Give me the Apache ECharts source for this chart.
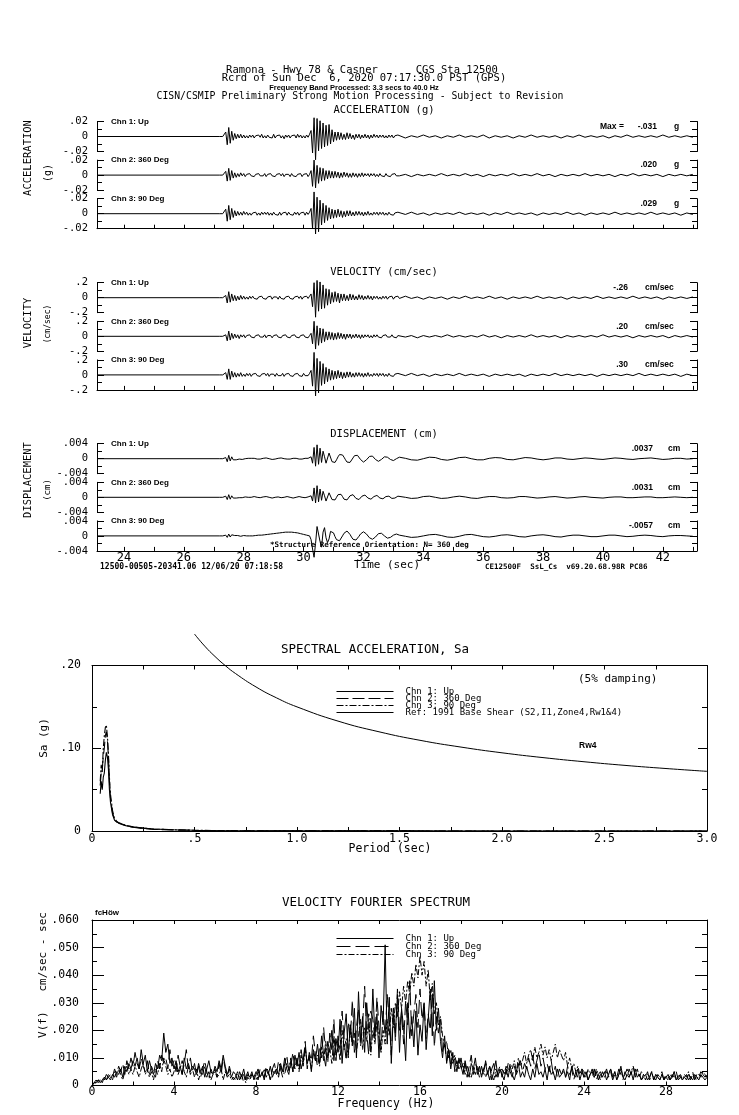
<!DOCTYPE html>
<html><head><meta charset="utf-8">
<script src="https://cdn.jsdelivr.net/npm/echarts@6/dist/echarts.min.js"></script>
<style>html,body{margin:0;padding:0;background:#fff}#c{width:739px;height:1115px}</style>
</head><body><div id="c"></div>
<script>
// ---------------- DATA ----------------
const channelNames = ['Chn 1: Up', 'Chn 2: 360 Deg', 'Chn 3: 90 Deg'];
const refName = 'Ref: 1991 Base Shear (S2,I1,Zone4,Rw1&4)';
const timeTickLabels = [24, 26, 28, 30, 32, 34, 36, 38, 40, 42];
const timeTicks = [24, 25, 26, 27, 28, 29, 30, 31, 32, 33, 34, 35, 36, 37, 38, 39, 40, 41, 42, 43];
const accMax = ['-.031', '.020', '.029'];
const velMax = ['-.26', '.20', '.30'];
const dispMax = ['.0037', '.0031', '-.0057'];

// time series: flat start at 23.1 s, then head samples every 0.05 s from 27.2 s, tail samples every 0.2 s from 33.2 s
const TRACE_START = 23.1, HEAD_T0 = 27.2, HEAD_DT = 0.05, TAIL_T0 = 33.2, TAIL_DT = 0.2;

const accHead1 = [0,0,0,0, .006,-.011,.012,-.009,.007,-.005, .004,-.003,.003,-.002,.003,-.002,.002,-.002,.001,-.002,.002,
 -.001,.002,-.002,.001,-.001,.002,-.001,.003,-.002,.001, -.002,.002,-.001,.001,-.002,.003,-.002,.001,-.001,.002,
 -.002,.001,-.003,.002,-.001,.002,-.002,.001,-.001,.002, -.002,.003,-.001,.002,-.002,.001,-.002,.002,-.001,.003,
 .008,-.022,.025,-.031,.024,-.019,.021,-.016,.018,-.014,.015,-.012,.016,-.010,.009,
 -.007,.006,-.005,.006,-.004,.005,-.004,.003,-.004,.005, -.003,.004,-.003,.002,-.004,.003,-.002,.003,-.003,.002,
 -.002,.003,-.002,.002,-.003,.002,-.002,.003,-.001,.002, -.002,.002,-.001,.002,-.002,.001,-.002,.002,-.001,.002, -.002,.001,-.001,.002];
const accTail1 = [.001,-.002,.001,-.001,.002,-.001,.001,-.002,.001,-.001, .002,-.001,.001,-.001,.002,-.002,.001,-.001,.001,-.002,
 .001,-.001,.002,-.001,.001,-.001,.001,-.002,.001,-.001, .002,-.001,.001,-.001,.001,-.002,.001,-.001,.002,-.001,
 .001,-.001,.001,-.001,.002,-.001,.001,-.001,.001,-.001];
const accHead2 = [0,0,0,0, .005,-.008,.009,-.007,.006,-.004, .003,-.003,.002,-.002,.003,-.001,.002,-.002,.001,-.001,.002,
 -.001,.001,-.002,.001,-.001,.002,-.001,.001,-.001,.002, -.002,.001,-.001,.002,-.001,.001,-.002,.001,-.001,.002,
 -.001,.002,-.002,.001,-.001,.001,-.002,.002,-.001,.001, -.002,.001,-.001,.002,-.002,.001,-.001,.002,-.002,.001,
 .006,-.015,.020,-.017,.013,-.011,.010,-.008,.009,-.007,.006,-.005,.006,-.004,.005,
 -.004,.005,-.003,.004,-.004,.003,-.003,.004,-.002,.003, -.003,.002,-.003,.003,-.002,.002,-.003,.002,-.002,.003,
 -.002,.002,-.001,.002,-.002,.002,-.001,.002,-.002,.001, -.002,.002,-.001,.001,-.002,.002,-.001,.001,-.002,.001, -.001,.002,-.001,.001];
const accTail2 = [-.001,.001,-.002,.001,-.001,.001,-.001,.002,-.001,.001, -.001,.002,-.001,.001,-.002,.001,-.001,.001,-.001,.002,
 -.001,.001,-.001,.002,-.001,.001,-.002,.001,-.001,.001, -.001,.002,-.001,.001,-.001,.001,-.002,.001,-.001,.002,
 -.001,.001,-.001,.001,-.002,.001,-.001,.001,-.001,.001];
const accHead3 = [0,0,0,0, .006,-.010,.011,-.008,.007,-.005, .004,-.003,.003,-.002,.002,-.002,.003,-.001,.002,-.002,.001,
 -.002,.001,-.001,.002,-.002,.001,-.002,.002,-.001,.002, -.001,.002,-.002,.001,-.002,.002,-.001,.001,-.002,.002,
 -.002,.001,-.001,.002,-.002,.002,-.001,.001,-.002,.002, -.001,.002,-.002,.001,-.001,.002,-.002,.002,-.001,.002,
 .007,-.020,.029,-.027,.022,-.024,.018,-.015,.014,-.012,.011,-.009,.008,-.007,.006,
 -.006,.005,-.005,.006,-.004,.004,-.005,.003,-.004,.004, -.003,.004,-.003,.002,-.003,.003,-.002,.003,-.002,.002,
 -.003,.002,-.002,.003,-.002,.001,-.002,.002,-.001,.002, -.002,.002,-.001,.002,-.002,.001,-.002,.002,-.001,.001, -.002,.001,-.001,.002];
const accTail3 = [.001,-.001,.002,-.001,.001,-.002,.001,-.001,.001,-.001, .002,-.001,.001,-.001,.001,-.002,.001,-.001,.002,-.001,
 .001,-.001,.001,-.002,.001,-.001,.001,-.001,.002,-.001, .001,-.002,.001,-.001,.001,-.001,.002,-.001,.001,-.001,
 .001,-.001,.002,-.001,.001,-.001,.001,-.002,.001,-.001];

const velHead1 = [0,0,0,0, .03,-.07,.08,-.06,.05,-.04, .03,-.04,.02,-.03,.03,-.02,.02,-.02,.01,-.02,.02,
 -.01,.02,-.01,.01,-.02,.01,-.01,.02,-.01,.01, -.02,.01,-.01,.02,-.02,.01,-.01,.01,-.02,.02,
 -.01,.01,-.02,.01,-.01,.02,-.01,.01,-.02,.01, -.01,.02,-.01,.02,-.02,.01,-.01,.02,-.01,.02,
 .05,-.12,.20,-.26,.23,-.18,.21,-.15,.17,-.14,.12,-.10,.11,-.08,.07,
 -.06,.08,-.05,.06,-.07,.05,-.04,.05,-.04,.03, -.04,.05,-.03,.04,-.03,.02,-.03,.04,-.02,.03,
 -.03,.02,-.02,.03,-.02,.02,-.03,.02,-.01,.02, -.02,.01,-.02,.02,-.01,.02,-.02,.01,-.01,.02, -.02,.01,-.01,.02];
const velTail1 = [-.01,.02,-.01,.01,-.02,.01,-.01,.01,-.02,.01, -.01,.02,-.01,.01,-.01,.02,-.01,.01,-.02,.01,
 -.01,.01,-.01,.02,-.01,.01,-.01,.01,-.02,.01, -.01,.01,-.01,.02,-.01,.01,-.01,.01,-.01,.02,
 -.01,.01,-.01,.01,-.02,.01,-.01,.01,-.01,.01];
const velHead2 = [0,0,0,0, .02,-.06,.07,-.05,.04,-.03, .03,-.02,.02,-.03,.02,-.01,.02,-.02,.01,-.01,.02,
 -.01,.01,-.02,.01,-.01,.02,-.01,.01,-.01,.02, -.02,.01,-.01,.01,-.02,.01,-.01,.02,-.01,.01,
 -.02,.01,-.01,.02,-.01,.01,-.02,.01,-.01,.02, -.01,.01,-.02,.01,-.01,.02,-.01,.01,-.02,.01,
 .04,-.10,.20,-.17,.14,-.12,.11,-.09,.10,-.07,.06,-.05,.06,-.04,.05,
 -.05,.04,-.04,.05,-.03,.04,-.03,.03,-.04,.03, -.02,.03,-.03,.02,-.02,.03,-.02,.02,-.03,.02,
 -.02,.02,-.01,.02,-.02,.01,-.02,.02,-.01,.02, -.01,.01,-.02,.01,-.01,.02,-.01,.01,-.01,.02, -.01,.01,-.02,.01];
const velTail2 = [.01,-.01,.01,-.02,.01,-.01,.01,-.01,.02,-.01, .01,-.01,.01,-.01,.02,-.01,.01,-.02,.01,-.01,
 .01,-.01,.02,-.01,.01,-.01,.01,-.02,.01,-.01, .01,-.01,.01,-.01,.02,-.01,.01,-.01,.01,-.02,
 .01,-.01,.01,-.01,.01,-.02,.01,-.01,.01,-.01];
const velHead3 = [0,0,0,0, .03,-.06,.08,-.06,.05,-.03, .03,-.03,.02,-.02,.03,-.02,.01,-.02,.02,-.01,.02,
 -.02,.01,-.01,.02,-.01,.01,-.02,.01,-.01,.02, -.01,.02,-.02,.01,-.01,.01,-.02,.02,-.01,.01,
 -.01,.02,-.02,.01,-.01,.02,-.01,.01,-.02,.01, -.01,.02,-.01,.01,-.02,.02,-.01,.01,-.01,.02,
 .06,-.15,.30,-.28,.22,-.24,.18,-.14,.15,-.12,.10,-.09,.08,-.07,.06,
 -.06,.05,-.05,.06,-.04,.04,-.05,.03,-.04,.04, -.03,.04,-.03,.02,-.03,.03,-.02,.03,-.02,.02,
 -.03,.02,-.02,.03,-.02,.01,-.02,.02,-.01,.02, -.02,.02,-.01,.02,-.02,.01,-.02,.02,-.01,.01, -.02,.01,-.01,.02];
const velTail3 = [.01,-.01,.02,-.01,.01,-.02,.01,-.01,.01,-.01, .02,-.01,.01,-.01,.01,-.02,.01,-.01,.01,-.01,
 .01,-.02,.01,-.01,.01,-.01,.02,-.01,.01,-.01, .01,-.01,.01,-.02,.01,-.01,.01,-.01,.01,-.01,
 .02,-.01,.01,-.01,.01,-.01,.01,-.02,.01,-.01];

const dispHead1 = [0,0,0,0, .0003,-.0008,.0009,-.0006,.0005,-.0003, .0002,-.0003,.0002,-.0001,.0001,-.0002,.0001,0,-.0001,.0001,0,
 .0001,.0002,.0001,0,-.0001,-.0002,-.0001,0,.0001,.0002, .0002,.0001,0,-.0001,-.0002,-.0002,-.0001,0,.0001,.0001,
 .0002,.0001,0,-.0001,-.0001,-.0002,-.0001,0,.0001,.0002, .0001,0,-.0001,-.0002,-.0001,0,.0001,.0002,.0001,0,
 .0005,-.0012,.0030,-.0020,.0037,-.0015,.0028,-.0010,.0020,.0005,-.0012,-.0008,.0015,.0010,-.0008,
 -.0013,-.0010,-.0003,.0005,.0011,.0013,.0010,.0004,-.0003,-.0009,-.0012,-.0010,
 -.0005,.0002,.0008,.0011,.0009,.0004,-.0002,-.0007,-.0009,-.0008,-.0003,.0002,
 .0006,.0008,.0007,.0003,-.0002,-.0005,-.0007,-.0006,-.0002,.0002,.0005,.0006,
 .0004,.0001,-.0002,-.0004,-.0005,-.0003,0,.0003];
const dispTail1 = [.0004,.0001,-.0003,-.0004,0,.0004,.0003,-.0002,-.0004,-.0001, .0003,.0004,0,-.0003,-.0003,.0001,.0003,.0002,-.0002,-.0003,
 0,.0003,.0002,-.0001,-.0003,-.0001,.0002,.0002,-.0001,-.0002, 0,.0002,.0001,-.0001,-.0002,0,.0002,.0001,-.0001,-.0002,
 0,.0001,.0002,0,-.0002,-.0001,.0001,.0001,-.0001,0];
const dispHead2 = [0,0,0,0, .0003,-.0006,.0007,-.0005,.0004,-.0002, .0002,-.0002,.0001,-.0001,.0002,-.0001,0,.0001,-.0001,0,.0001,
 0,.0001,.0002,.0001,0,-.0001,-.0001,0,.0001,.0001, .0002,.0001,0,-.0001,-.0002,-.0001,0,.0001,.0001,0,
 -.0001,-.0001,0,.0001,.0002,.0001,0,-.0001,-.0002,-.0001, 0,.0001,.0002,.0001,0,-.0001,-.0001,0,.0001,0,
 .0004,-.0010,.0025,-.0015,.0031,-.0012,.0022,-.0008,.0016,.0004,-.0010,-.0006,.0012,.0008,-.0006,
 -.0010,-.0007,0,.0007,.0010,.0008,.0002,-.0005,-.0009,-.0007, -.0002,.0004,.0008,.0007,.0002,-.0003,-.0007,-.0006,-.0002,.0003,
 .0006,.0006,.0002,-.0002,-.0005,-.0005,-.0002,.0002,.0005,.0005, .0002,-.0002,-.0004,-.0004,-.0001,.0002,.0004,.0003,0,-.0003,
 -.0004,-.0002,.0001,.0003];
const dispTail2 = [.0003,0,-.0003,-.0002,.0002,.0003,0,-.0003,-.0002,.0001, .0003,.0001,-.0002,-.0003,0,.0002,.0002,-.0001,-.0002,-.0001,
 .0002,.0002,0,-.0002,-.0001,.0001,.0002,0,-.0002,-.0001, .0001,.0002,0,-.0001,-.0002,0,.0001,.0001,-.0001,-.0001,
 0,.0001,.0001,-.0001,-.0001,0,.0001,0,-.0001,0];
const dispHead3 = [0,0,0,0, .0002,-.0004,.0005,-.0003,.0003,-.0002, .0001,-.0001,.0001,0,-.0001,0,.0001,0,0,-.0001,0,
 0,0,.0001,.0001,.0001,.0002,.0002,.0002,.0003,.0003, .0003,.0004,.0004,.0005,.0005,.0006,.0006,.0007,.0007,.0008,
 .0008,.0009,.0009,.0010,.0010,.0010,.0011,.0010,.0010,.0009, .0009,.0008,.0007,.0006,.0005,.0004,.0003,.0002,.0001,0,
 -.0010,-.0035,-.0057,-.0020,.0025,.0030,-.0015,-.0030,.0010,.0022,-.0005,-.0018,-.0008,.0012,.0015,
 .0008,-.0002,-.0010,-.0014,-.0013,-.0008,0,.0007,.0012,.0013, .0010,.0004,-.0003,-.0009,-.0012,-.0011,-.0007,-.0001,.0005,.0009,
 .0011,.0009,.0005,0,-.0005,-.0008,-.0009,-.0007,-.0003,.0002, .0006,.0008,.0007,.0004,0,-.0004,-.0006,-.0006,-.0004,-.0001,
 .0002,.0004,.0005,.0004];
const dispTail3 = [.0002,-.0001,-.0004,-.0003,0,.0003,.0004,.0001,-.0003,-.0004, -.0001,.0003,.0004,.0001,-.0002,-.0003,-.0001,.0002,.0003,.0001,
 -.0002,-.0003,0,.0002,.0003,.0001,-.0002,-.0003,0,.0002, .0002,0,-.0002,-.0002,0,.0002,.0002,0,-.0002,-.0001,
 .0001,.0002,.0001,-.0001,-.0002,0,.0001,.0001,0,-.0001];

// spectral acceleration (5% damping)
const specPeriods = [0.04,0.045,0.05,0.055,0.06,0.065,0.07,0.075,0.08,0.085,0.09,0.1,0.11,0.12,0.13,0.15,0.17,0.2,0.25,0.3,0.35,0.4,0.5,0.6,0.8,1.0,1.5,2.0,2.5,3.0];
const specChn1 = [.045,.06,.05,.065,.07,.085,.095,.09,.075,.05,.035,.02,.013,.011,.010,.008,.006,.005,.0035,.0025,.002,.0015,.0009,.0005,.0003,.0002,.0001,.00005,.00003,.00002];
const specChn2 = [.055,.07,.075,.09,.1,.115,.12,.11,.09,.06,.04,.022,.014,.011,.0095,.0075,.006,.0045,.003,.002,.0016,.0012,.0007,.0004,.0002,.00015,.0001,.00005,.00003,.00002];
const specChn3 = [.06,.08,.07,.1,.115,.125,.128,.115,.095,.065,.045,.025,.015,.012,.010,.008,.0065,.005,.0035,.0025,.002,.0015,.0009,.0005,.0003,.0002,.0001,.00005,.00003,.00002];
const refPeriods = [0.5,0.55,0.6,0.65,0.7,0.8,0.9,1.0,1.2,1.4,1.6,1.8,2.0,2.2,2.4,2.6,2.8,3.0];
const refSa = [0.238,0.2234,0.2109,0.1999,0.1903,0.1741,0.1609,0.15,0.1328,0.1199,0.1096,0.1014,0.0945,0.0887,0.0837,0.0793,0.0755,0.0721];

// velocity Fourier spectrum, sampled every 0.1 Hz from 0 Hz
const F_DF = 0.1;
const fasChn1 = [
 .000,.001,.001,.002,.001,.002,.003,.002,.003,.002, .004,.003,.005,.004,.006,.003,.007,.005,.008,.006,
 .009,.007,.010,.006,.013,.008,.011,.005,.009,.006, .004,.008,.006,.011,.009,.019,.012,.015,.008,.010,
 .006,.009,.005,.007,.004,.010,.006,.008,.005,.007, .006,.004,.008,.005,.007,.003,.006,.009,.005,.004,
 .007,.005,.009,.006,.011,.007,.004,.006,.003,.005, .004,.002,.005,.003,.006,.002,.004,.003,.005,.002,
 .004,.006,.003,.005,.002,.006,.004,.007,.003,.005, .006,.004,.008,.005,.010,.006,.004,.009,.005,.011,
 .007,.012,.006,.009,.014,.008,.011,.005,.013,.009, .015,.008,.018,.011,.007,.016,.012,.020,.009,.017,
 .012,.024,.008,.019,.026,.011,.022,.015,.028,.010, .034,.016,.025,.012,.030,.020,.014,.035,.018,.026,
 .010,.029,.022,.051,.015,.032,.008,.026,.019,.033, .012,.028,.021,.009,.030,.017,.025,.014,.027,.011,
 .022,.016,.030,.013,.024,.035,.018,.038,.020,.028, .016,.010,.018,.008,.013,.006,.011,.009,.005,.010,
 .007,.004,.009,.005,.003,.008,.006,.010,.004,.007, .003,.006,.008,.004,.007,.002,.005,.009,.003,.006,
 .004,.002,.006,.003,.007,.004,.002,.005,.008,.003, .005,.003,.007,.004,.002,.006,.003,.008,.004,.005,
 .003,.006,.002,.007,.004,.005,.002,.006,.003,.004, .006,.003,.005,.002,.007,.004,.003,.006,.002,.005,
 .003,.005,.002,.004,.006,.003,.005,.002,.004,.003, .005,.002,.004,.006,.003,.005,.002,.004,.007,.003,
 .002,.004,.003,.005,.002,.006,.003,.004,.002,.003, .004,.002,.003,.005,.002,.004,.003,.002,.004,.002,
 .003,.004,.002,.003,.005,.002,.003,.004,.002,.003, .004,.002,.003,.002,.004,.003,.002,.004,.003,.002, .003];
const fasChn2 = [
 .000,.001,.002,.001,.002,.003,.002,.004,.003,.004, .003,.006,.004,.007,.005,.008,.004,.009,.006,.010,
 .007,.012,.008,.006,.010,.007,.005,.009,.004,.007, .005,.003,.009,.006,.011,.008,.010,.006,.013,.007,
 .009,.005,.011,.007,.004,.008,.013,.006,.010,.005, .008,.004,.007,.003,.006,.009,.005,.002,.006,.004,
 .006,.003,.008,.004,.010,.006,.003,.007,.004,.002, .003,.005,.002,.004,.001,.003,.005,.002,.004,.003,
 .005,.002,.006,.004,.003,.007,.005,.002,.006,.008, .004,.009,.006,.003,.008,.011,.005,.007,.012,.006,
 .010,.005,.013,.008,.016,.006,.012,.009,.018,.011, .007,.014,.010,.021,.012,.008,.019,.013,.024,.009,
 .018,.013,.027,.016,.009,.023,.017,.031,.012,.021, .028,.014,.022,.036,.019,.011,.027,.024,.017,.032,
 .021,.013,.027,.018,.033,.024,.011,.029,.016,.035, .020,.027,.015,.031,.022,.038,.018,.026,.033,.021,
 .035,.024,.030,.017,.026,.020,.034,.014,.025,.019, .024,.012,.015,.009,.014,.007,.012,.005,.009,.006,
 .010,.005,.008,.003,.007,.011,.004,.008,.006,.003, .007,.004,.009,.005,.002,.006,.008,.003,.005,.007,
 .003,.006,.004,.008,.005,.003,.007,.004,.006,.009, .005,.008,.006,.010,.007,.011,.006,.009,.012,.007,
 .010,.006,.008,.005,.009,.004,.007,.003,.006,.004, .005,.003,.007,.004,.006,.002,.005,.003,.004,.006,
 .003,.005,.002,.004,.003,.006,.002,.004,.005,.003, .004,.006,.003,.005,.002,.004,.003,.006,.004,.002,
 .005,.003,.006,.004,.007,.003,.005,.004,.002,.004, .003,.005,.002,.004,.003,.002,.004,.003,.005,.002,
 .004,.003,.002,.004,.003,.005,.002,.003,.004,.003, .002,.004,.003,.005,.002,.004,.003,.005,.004,.003, .004];
const fasChn3 = [
 .000,.001,.001,.002,.002,.001,.003,.002,.004,.003, .002,.005,.003,.006,.004,.002,.005,.007,.004,.006,
 .004,.007,.005,.003,.006,.008,.004,.006,.003,.005, .002,.006,.004,.008,.005,.010,.007,.004,.006,.003,
 .005,.008,.004,.006,.009,.005,.003,.007,.004,.006, .003,.006,.002,.005,.004,.007,.003,.005,.002,.004,
 .005,.003,.004,.006,.002,.005,.003,.004,.002,.003, .002,.004,.003,.002,.004,.001,.003,.002,.004,.003,
 .002,.005,.003,.004,.006,.003,.005,.002,.006,.004, .006,.003,.007,.005,.004,.008,.006,.010,.005,.007,
 .009,.006,.011,.007,.013,.008,.010,.006,.012,.009, .011,.007,.014,.009,.016,.010,.013,.008,.018,.011,
 .015,.009,.020,.013,.017,.010,.022,.014,.019,.012, .018,.024,.013,.021,.016,.026,.011,.020,.015,.023,
 .017,.012,.020,.015,.024,.018,.028,.021,.030,.025, .034,.028,.036,.030,.038,.033,.041,.036,.044,.039,
 .047,.040,.045,.036,.042,.031,.037,.026,.030,.022, .025,.018,.014,.016,.010,.013,.008,.011,.007,.009,
 .006,.008,.004,.007,.005,.003,.006,.004,.007,.005, .004,.006,.003,.005,.007,.004,.002,.006,.004,.005,
 .006,.004,.007,.005,.008,.006,.009,.005,.010,.007, .009,.012,.008,.011,.013,.009,.014,.010,.012,.015,
 .011,.014,.010,.013,.009,.012,.015,.010,.013,.011, .009,.012,.007,.010,.006,.008,.005,.007,.004,.006,
 .005,.003,.006,.004,.005,.003,.006,.004,.002,.005, .003,.005,.004,.006,.003,.005,.002,.004,.006,.003,
 .004,.006,.003,.005,.007,.004,.006,.003,.005,.004, .002,.004,.003,.005,.002,.004,.003,.002,.004,.003,
 .003,.002,.004,.003,.005,.002,.004,.003,.002,.004, .003,.005,.002,.004,.003,.002,.004,.003,.005,.004, .003];

// ---------------- BUILD ----------------
const MONO = '"DejaVu Sans Mono", "Liberation Mono", monospace';
const SANS = '"Liberation Sans", Arial, sans-serif';
const BLACK = '#000';

function trace(head, tail) {
  const d = [[TRACE_START, 0]];
  head.forEach((v, i) => d.push([HEAD_T0 + i * HEAD_DT, v]));
  tail.forEach((v, i) => d.push([TAIL_T0 + i * TAIL_DT, v]));
  return d;
}
function fmtSmall(v) {
  if (Math.abs(v) < 1e-12) return '0';
  const s = String(+Math.abs(v).toPrecision(6)).replace(/^0/, '');
  return (v < 0 ? '-' : '') + s;
}

const sections = [
  { title: 'ACCELERATION (g)', titleY: 110, zeros: [136.5, 175.1, 213.7], lim: 0.02,
    heads: [accHead1, accHead2, accHead3], tails: [accTail1, accTail2, accTail3],
    maxes: accMax, unit: 'g', unitX: 674, valRight: 657, side: 'ACCELERATION', sideY: 158, sub: '(g)', subY: 173, subSize: 10, timeLabels: false },
  { title: 'VELOCITY (cm/sec)', titleY: 272, zeros: [297.7, 336.3, 374.9], lim: 0.2,
    heads: [velHead1, velHead2, velHead3], tails: [velTail1, velTail2, velTail3],
    maxes: velMax, unit: 'cm/sec', unitX: 645, valRight: 628, side: 'VELOCITY', sideY: 323, sub: '(cm/sec)', subY: 324, subSize: 8, timeLabels: false },
  { title: 'DISPLACEMENT (cm)', titleY: 434, zeros: [458.7, 497.3, 535.9], lim: 0.004,
    heads: [dispHead1, dispHead2, dispHead3], tails: [dispTail1, dispTail2, dispTail3],
    maxes: dispMax, unit: 'cm', unitX: 668, valRight: 653, side: 'DISPLACEMENT', sideY: 480, sub: '(cm)', subY: 490, subSize: 9, timeLabels: true }
];

const grid = [], xAxis = [], yAxis = [], series = [], graphic = [];
function txt(x, y, text, font, align, extra) {
  graphic.push(Object.assign({ type: 'text', x: x, y: y, silent: true,
    style: { text: text, font: font, fill: BLACK, align: align || 'left', verticalAlign: 'middle' } }, extra || {}));
}

// header
txt(362, 70, 'Ramona - Hwy 78 & Casner      CGS Sta 12500', '10.5px ' + MONO, 'center');
txt(364, 78, 'Rcrd of Sun Dec  6, 2020 07:17:30.0 PST (GPS)', '10.5px ' + MONO, 'center');
txt(354, 88, 'Frequency Band Processed: 3.3 secs to 40.0 Hz', 'bold 7.5px ' + SANS, 'center');
txt(360, 96, 'CISN/CSMIP Preliminary Strong Motion Processing - Subject to Revision', '9.8px ' + MONO, 'center');

const axisLineStyle = { color: BLACK, width: 1 };
sections.forEach((s, si) => {
  txt(384, s.titleY, s.title, '10.5px ' + MONO, 'center');
  txt(28, s.sideY, s.side, '10.5px ' + MONO, 'center', { rotation: Math.PI / 2 });
  txt(48, s.subY, s.sub, s.subSize + 'px ' + MONO, 'center', { rotation: Math.PI / 2 });
  s.zeros.forEach((z, c) => {
    const g = grid.length;
    grid.push({ left: 97, right: 42, top: z - 15, height: 30, outerBoundsMode: 'none', containLabel: false });
    const isBottom = c === 2;
    xAxis.push({ gridIndex: g, type: 'value', min: TRACE_START, max: 43.14, position: 'bottom', show: isBottom,
      axisLine: { show: true, onZero: false, lineStyle: axisLineStyle },
      axisTick: { show: true, inside: true, length: 4, lineStyle: axisLineStyle, customValues: timeTicks },
      axisLabel: { show: s.timeLabels, customValues: timeTickLabels, color: BLACK, fontFamily: MONO, fontSize: 12, margin: 1 },
      splitLine: { show: false } });
    const yBase = { gridIndex: g, type: 'value', min: -s.lim, max: s.lim, interval: s.lim,
      axisLine: { show: true, onZero: false, lineStyle: axisLineStyle },
      axisTick: { show: true, inside: true, length: 7, lineStyle: axisLineStyle },
      minorTick: { show: true, splitNumber: 2, length: 5, lineStyle: axisLineStyle },
      splitLine: { show: false }, minorSplitLine: { show: false } };
    yAxis.push(Object.assign({}, yBase, { position: 'left',
      axisLabel: { show: true, formatter: fmtSmall, color: BLACK, fontFamily: MONO, fontSize: 10.5, margin: 9 } }));
    const yl = yAxis.length - 1;
    yAxis.push(Object.assign({}, yBase, { position: 'right', axisLabel: { show: false } }));
    series.push({ type: 'line', xAxisIndex: g, yAxisIndex: yl, data: trace(s.heads[c], s.tails[c]),
      showSymbol: false, symbol: 'none', clip: false, silent: true,
      lineStyle: { color: BLACK, width: 1 } });
    // annotations
    txt(111, z - 15, channelNames[c], 'bold 8px ' + SANS, 'left');
    if (si === 0 && c === 0) txt(600, z - 10, 'Max =', 'bold 8.5px ' + SANS, 'left');
    txt(s.valRight, z - 10, s.maxes[c], 'bold 8.5px ' + SANS, 'right');
    txt(s.unitX, z - 10, s.unit, 'bold 8.5px ' + SANS, 'left');
  });
});
txt(270, 545, '*Structure Reference Orientation: N= 360 deg', 'bold 7.5px ' + MONO, 'left');
txt(100, 567, '12500-00505-20341.06 12/06/20 07:18:58', 'bold 8px ' + MONO, 'left');
txt(387, 565, 'Time (sec)', '11px ' + MONO, 'center');
txt(485, 567, 'CE12500F  SsL_Cs  v69.20.68.98R PC86', 'bold 7.5px ' + MONO, 'left');

// ---- Spectral acceleration panel ----
const gS = grid.length;
grid.push({ left: 92, right: 32, top: 665.5, height: 165.5, outerBoundsMode: 'none', containLabel: false });
const specTicks = [0, 0.25, 0.5, 0.75, 1, 1.25, 1.5, 1.75, 2, 2.25, 2.5, 2.75, 3];
const specLabels = [0, 0.5, 1, 1.5, 2, 2.5, 3];
const xS = xAxis.length;
xAxis.push({ gridIndex: gS, type: 'value', min: 0, max: 3, position: 'bottom',
  axisLine: { show: true, onZero: false, lineStyle: axisLineStyle },
  axisTick: { show: true, inside: true, length: 4, lineStyle: axisLineStyle, customValues: specTicks },
  axisLabel: { customValues: specLabels, color: BLACK, fontFamily: MONO, fontSize: 11.5, margin: 2,
    formatter: v => v === 0 ? '0' : (v < 1 ? '.5' : v.toFixed(1)) },
  splitLine: { show: false } });
xAxis.push({ gridIndex: gS, type: 'value', min: 0, max: 3, position: 'top',
  axisLine: { show: true, onZero: false, lineStyle: axisLineStyle },
  axisTick: { show: true, inside: true, length: 4, lineStyle: axisLineStyle, customValues: specTicks },
  axisLabel: { show: false }, splitLine: { show: false } });
const ySBase = { gridIndex: gS, type: 'value', min: 0, max: 0.2, interval: 0.1,
  axisLine: { show: true, onZero: false, lineStyle: axisLineStyle },
  axisTick: { show: true, inside: true, length: 9, lineStyle: axisLineStyle },
  minorTick: { show: true, splitNumber: 2, length: 5, lineStyle: axisLineStyle },
  splitLine: { show: false }, minorSplitLine: { show: false } };
const yS = yAxis.length;
yAxis.push(Object.assign({}, ySBase, { position: 'left',
  axisLabel: { formatter: v => v === 0 ? '0' : v.toFixed(2).replace(/^0/, ''), color: BLACK, fontFamily: MONO, fontSize: 11.5, margin: 11 } }));
yAxis.push(Object.assign({}, ySBase, { position: 'right', axisLabel: { show: false } }));
const specStyles = [
  { type: 'solid', width: 1.1 },
  { type: [12, 4], width: 1.1 },
  { type: [7, 2, 2, 2], width: 1.1 }
];
const specData = [specChn1, specChn2, specChn3];
specData.forEach((arr, c) => {
  series.push({ name: channelNames[c], type: 'line', xAxisIndex: xS, yAxisIndex: yS,
    data: arr.map((v, i) => [specPeriods[i], v]), showSymbol: false, symbol: 'none', clip: false,
    itemStyle: { color: BLACK },
    lineStyle: Object.assign({ color: BLACK }, specStyles[c]) });
});
series.push({ name: refName, type: 'line', xAxisIndex: xS, yAxisIndex: yS, smooth: true,
  data: refSa.map((v, i) => [refPeriods[i], v]), showSymbol: false, symbol: 'none', clip: false,
  itemStyle: { color: BLACK },
  lineStyle: { color: BLACK, width: 1, type: 'solid' } });
txt(375, 650, 'SPECTRAL ACCELERATION, Sa', '12.5px ' + MONO, 'center');
txt(578, 679, '(5% damping)', '11px ' + MONO, 'left');
txt(579, 746, 'Rw4', 'bold 8.5px ' + SANS, 'left');
txt(390, 849, 'Period (sec)', '11.5px ' + MONO, 'center');
txt(44, 738, 'Sa (g)', '11px ' + MONO, 'center', { rotation: Math.PI / 2 });

// ---- Fourier spectrum panel ----
const gF = grid.length;
grid.push({ left: 92, right: 32, top: 920, height: 165.5, outerBoundsMode: 'none', containLabel: false });
const fTicks = [0, 2, 4, 6, 8, 10, 12, 14, 16, 18, 20, 22, 24, 26, 28, 30];
const fLabels = [0, 4, 8, 12, 16, 20, 24, 28];
const xF = xAxis.length;
xAxis.push({ gridIndex: gF, type: 'value', min: 0, max: 30, position: 'bottom',
  axisLine: { show: true, onZero: false, lineStyle: axisLineStyle },
  axisTick: { show: true, inside: true, length: 4, lineStyle: axisLineStyle, customValues: fTicks },
  axisLabel: { customValues: fLabels, color: BLACK, fontFamily: MONO, fontSize: 11.5, margin: 1 },
  splitLine: { show: false } });
xAxis.push({ gridIndex: gF, type: 'value', min: 0, max: 30, position: 'top',
  axisLine: { show: true, onZero: false, lineStyle: axisLineStyle },
  axisTick: { show: true, inside: true, length: 4, lineStyle: axisLineStyle, customValues: fTicks },
  axisLabel: { show: false }, splitLine: { show: false } });
const yFBase = { gridIndex: gF, type: 'value', min: 0, max: 0.06, interval: 0.01,
  axisLine: { show: true, onZero: false, lineStyle: axisLineStyle },
  axisTick: { show: true, inside: true, length: 12, lineStyle: axisLineStyle },
  minorTick: { show: true, splitNumber: 2, length: 5, lineStyle: axisLineStyle },
  splitLine: { show: false }, minorSplitLine: { show: false } };
const yF = yAxis.length;
yAxis.push(Object.assign({}, yFBase, { position: 'left',
  axisLabel: { formatter: v => v === 0 ? '0' : v.toFixed(3).replace(/^0/, ''), color: BLACK, fontFamily: MONO, fontSize: 11.5, margin: 13 } }));
yAxis.push(Object.assign({}, yFBase, { position: 'right', axisLabel: { show: false } }));
const FAS_SUFFIX = ' \u200b';
const fasStyles = [
  { type: 'solid', width: 1 },
  { type: [14, 5], width: 1 },
  { type: [6, 2, 2, 2], width: 1 }
];
[fasChn1, fasChn2, fasChn3].forEach((arr, c) => {
  series.push({ name: channelNames[c] + FAS_SUFFIX, type: 'line', xAxisIndex: xF, yAxisIndex: yF,
    data: arr.map((v, i) => [i * F_DF, v]), showSymbol: false, symbol: 'none', clip: true,
    itemStyle: { color: BLACK },
    lineStyle: Object.assign({ color: BLACK }, fasStyles[c]) });
});
txt(376, 903, 'VELOCITY FOURIER SPECTRUM', '12.5px ' + MONO, 'center');
txt(95, 913, 'fcHöw', 'bold 8px ' + SANS, 'left');
txt(386, 1104, 'Frequency (Hz)', '11.5px ' + MONO, 'center');
txt(43, 975, 'V(f)   cm/sec - sec', '11px ' + MONO, 'center', { rotation: Math.PI / 2 });

const legendCommon = { orient: 'vertical', left: 336, itemWidth: 57, padding: 0,
  selectedMode: false, inactiveColor: BLACK, itemStyle: { opacity: 0 }, lineStyle: { width: 1 } };
const legend = [
  Object.assign({}, legendCommon, { top: 687, itemHeight: 7, itemGap: -2,
    data: channelNames.concat([refName]),
    textStyle: { fontFamily: MONO, fontSize: 9, lineHeight: 7, color: BLACK, padding: [0, 0, 0, 7] } }),
  Object.assign({}, legendCommon, { top: 934, itemHeight: 8, itemGap: -1,
    data: channelNames.map(n => n + FAS_SUFFIX),
    formatter: n => n.replace(FAS_SUFFIX, ''),
    textStyle: { fontFamily: MONO, fontSize: 9, lineHeight: 8, color: BLACK, padding: [0, 0, 0, 7] } })
];

const chart = echarts.init(document.getElementById('c'), null, { renderer: 'canvas' });
chart.setOption({ backgroundColor: '#fff', animation: false, grid, xAxis, yAxis, series, legend, graphic,
  tooltip: { show: false } });
</script></body></html>
